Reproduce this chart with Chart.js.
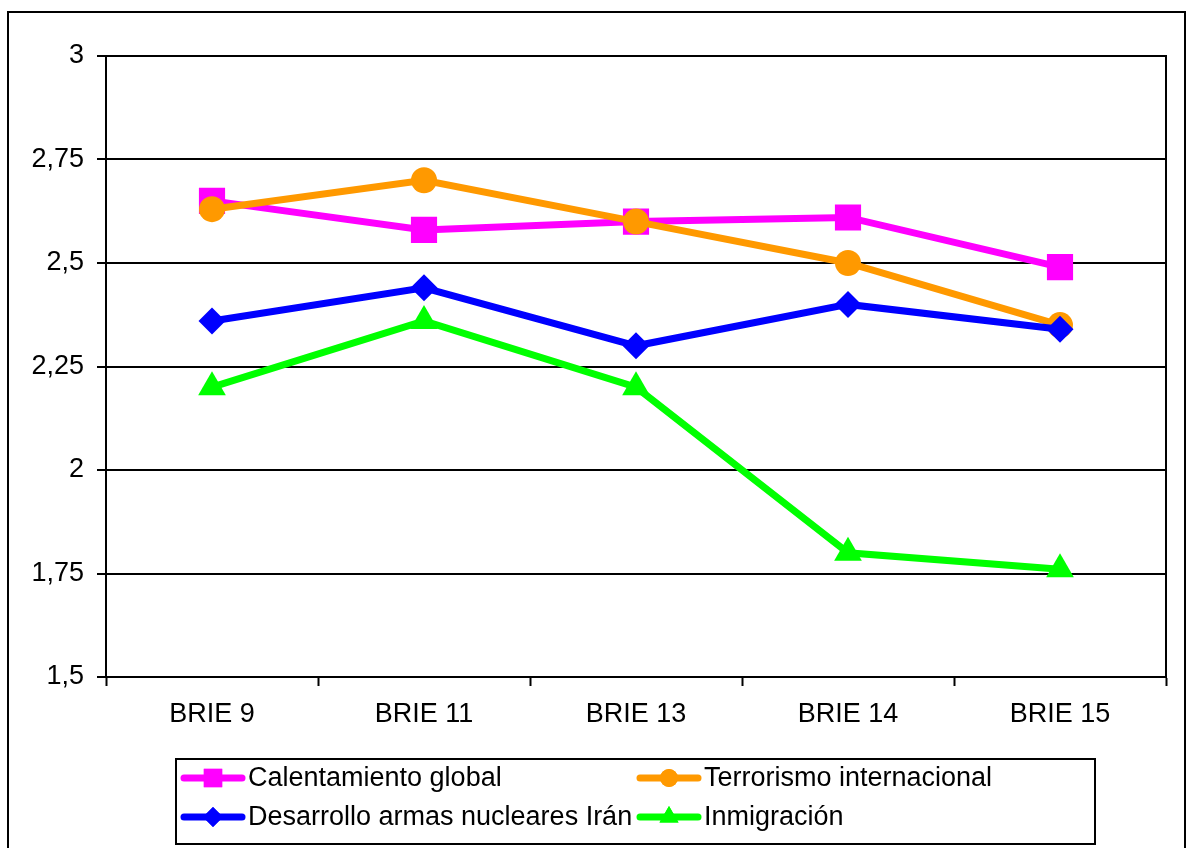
<!DOCTYPE html>
<html>
<head>
<meta charset="utf-8">
<script src="https://cdn.jsdelivr.net/npm/chart.js@4/dist/chart.umd.min.js"></script>
<style>
  html, body { margin: 0; padding: 0; background: #fff; }
  #wrap { width: 1190px; height: 848px; }
</style>
</head>
<body>
<div id="wrap"><canvas id="trendChart" width="1190" height="848"></canvas></div>
<script>
// chart data
const categories = ['BRIE 9', 'BRIE 11', 'BRIE 13', 'BRIE 14', 'BRIE 15'];
const seriesNames = ['Calentamiento global', 'Terrorismo internacional', 'Desarrollo armas nucleares Irán', 'Inmigración'];
const calentamiento = [2.65, 2.58, 2.60, 2.61, 2.49];
const terrorismo = [2.63, 2.70, 2.60, 2.50, 2.35];
const nuclearIran = [2.36, 2.44, 2.30, 2.40, 2.34];
const inmigracion = [2.20, 2.36, 2.20, 1.80, 1.76];
const yTicks = [1.5, 1.75, 2, 2.25, 2.5, 2.75, 3];

const FONT = "'Liberation Sans', Arial, sans-serif";

const seriesStyle = [
  { color: '#ff00ff', shape: 'rect', radius: 18.5, legendRadius: 13 },
  { color: '#ff9900', shape: 'circle', radius: 13, legendRadius: 9 },
  { color: '#0000ff', shape: 'rectRot', radius: 13.5, legendRadius: 10 },
  { color: '#00ff00', shape: 'triangle', radius: 16, legendRadius: 11 }
];
const seriesValues = [calentamiento, terrorismo, nuclearIran, inmigracion];

const datasets = seriesValues.map((vals, i) => ({
  label: seriesNames[i],
  data: vals,
  borderColor: seriesStyle[i].color,
  backgroundColor: seriesStyle[i].color,
  borderWidth: 7,
  pointStyle: seriesStyle[i].shape,
  pointRadius: seriesStyle[i].radius,
  pointHoverRadius: seriesStyle[i].radius,
  pointBorderWidth: 0,
  tension: 0,
  order: seriesValues.length - 1 - i
}));

// frame, plot border and legend box
const framePlugin = {
  id: 'frame',
  beforeDraw(chart) {
    const ctx = chart.ctx;
    ctx.save();
    ctx.fillStyle = '#fff';
    ctx.fillRect(0, 0, chart.width, chart.height);
    ctx.strokeStyle = '#000';
    ctx.lineWidth = 2;
    ctx.strokeRect(8, 12, 1177, 845);
    ctx.restore();
  },
  afterDraw(chart) {
    const ctx = chart.ctx;
    const a = chart.chartArea;
    ctx.save();
    ctx.strokeStyle = '#000';
    ctx.lineWidth = 2;
    ctx.strokeRect(a.left, a.top, a.right - a.left, a.bottom - a.top);

    // legend
    ctx.strokeRect(176, 759, 919, 85);
    const cols = [182, 638];
    const rows = [778, 817];
    seriesNames.forEach((name, i) => {
      const x0 = cols[i % 2];
      const y = rows[Math.floor(i / 2)];
      const st = seriesStyle[i];
      ctx.strokeStyle = st.color;
      ctx.lineWidth = 7;
      ctx.lineCap = 'round';
      ctx.beginPath();
      ctx.moveTo(x0 + 2, y);
      ctx.lineTo(x0 + 60, y);
      ctx.stroke();
      ctx.fillStyle = st.color;
      Chart.helpers.drawPoint(ctx, {
        pointStyle: st.shape, radius: st.legendRadius, rotation: 0, borderWidth: 0
      }, x0 + 31, y);
      ctx.fill();
      ctx.fillStyle = '#000';
      ctx.font = '27px ' + FONT;
      ctx.textAlign = 'left';
      ctx.textBaseline = 'middle';
      ctx.fillText(name, x0 + 66, y + 1);
    });
    ctx.restore();
  }
};

const ctx = document.getElementById('trendChart').getContext('2d');
new Chart(ctx, {
  type: 'line',
  data: { labels: categories, datasets: datasets },
  options: {
    responsive: false,
    animation: false,
    layout: { padding: { top: 56, right: 24, bottom: 0, left: 0 } },
    plugins: {
      legend: { display: false },
      tooltip: { enabled: false }
    },
    scales: {
      x: {
        offset: true,
        afterFit: (scale) => { scale.height = 171; },
        grid: {
          offset: true,
          drawOnChartArea: false,
          drawTicks: true,
          tickLength: 9,
          tickWidth: 2,
          tickColor: '#000'
        },
        border: { color: '#000', width: 2 },
        ticks: {
          color: '#000',
          padding: 12,
          maxRotation: 0,
          font: { family: FONT, size: 27 }
        }
      },
      y: {
        min: yTicks[0],
        max: yTicks[yTicks.length - 1],
        afterFit: (scale) => { scale.width = 106; },
        afterBuildTicks: (scale) => { scale.ticks = yTicks.map(v => ({ value: v })); },
        grid: {
          color: '#000',
          lineWidth: 2,
          drawTicks: true,
          tickLength: 9,
          tickWidth: 2,
          tickColor: '#000'
        },
        border: { color: '#000', width: 2 },
        ticks: {
          color: '#000',
          padding: 13,
          font: { family: FONT, size: 27 },
          callback: (v) => String(v).replace('.', ',')
        }
      }
    }
  },
  plugins: [framePlugin]
});
</script>
</body>
</html>
